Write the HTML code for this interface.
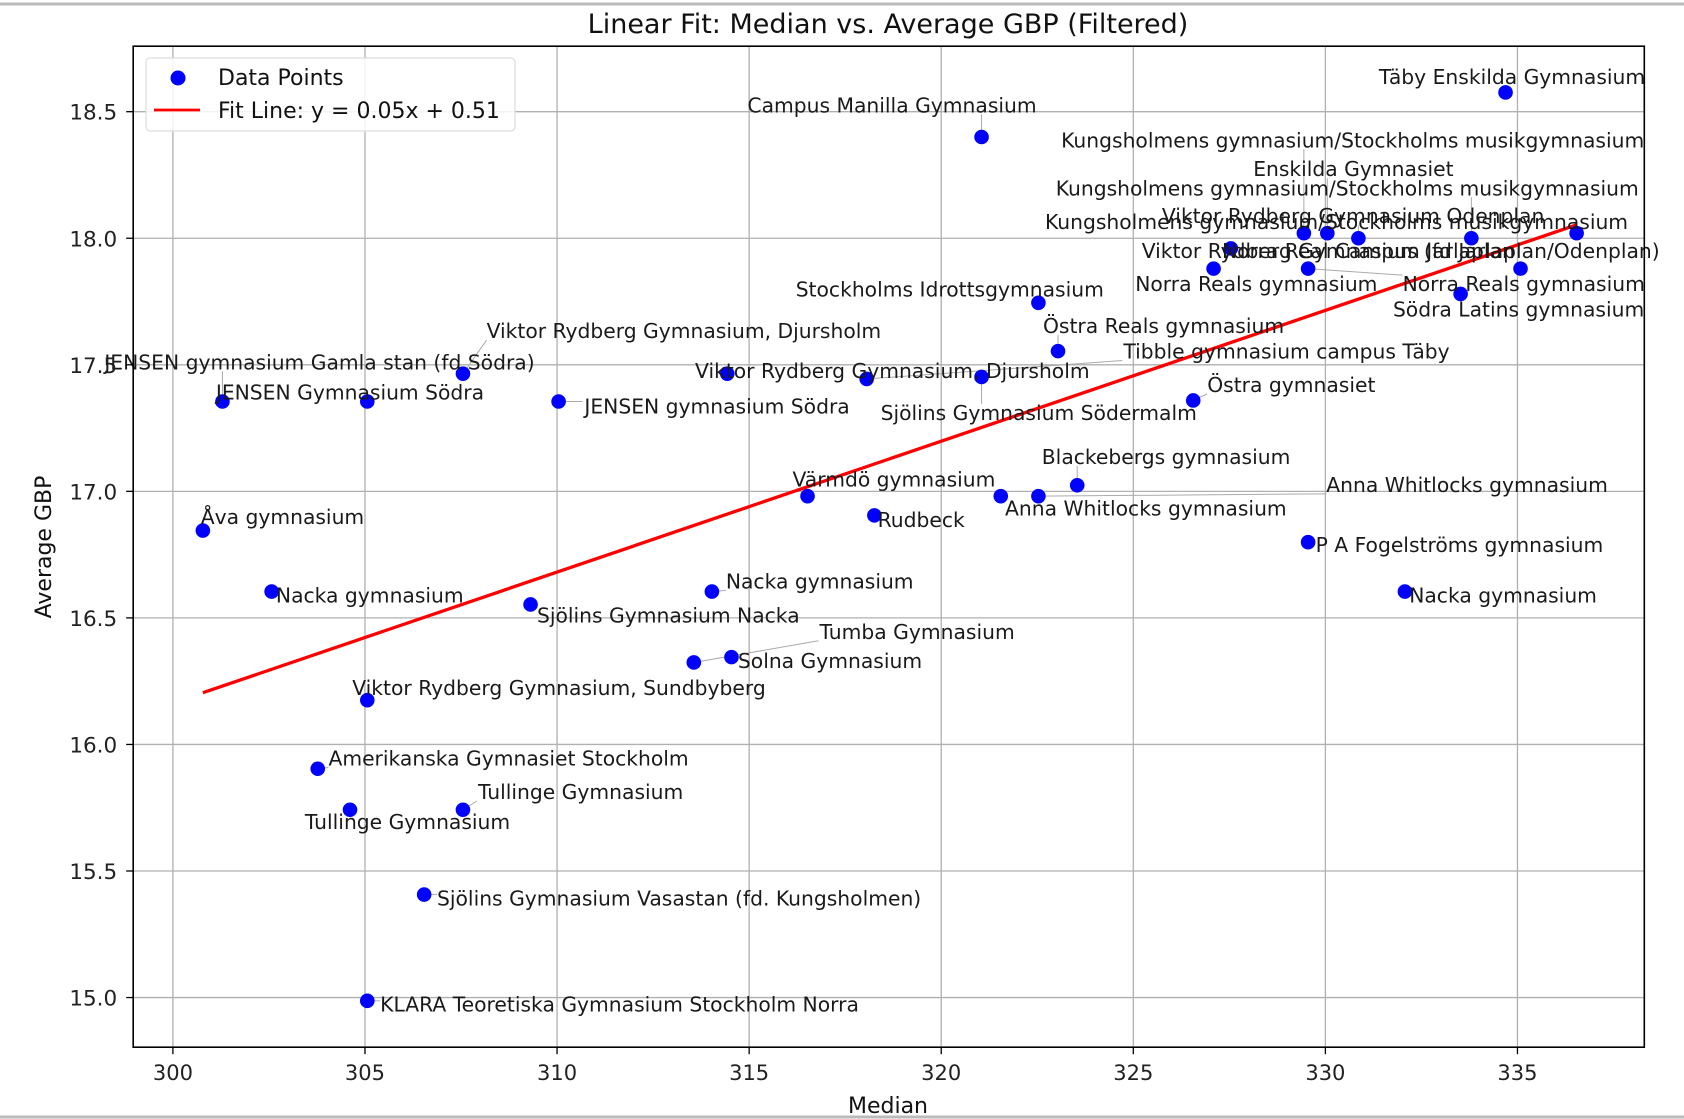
<!DOCTYPE html>
<html><head><meta charset="utf-8">
<style>
html,body{margin:0;padding:0;background:#fff;}
svg{display:block;font-family:"DejaVu Sans","Liberation Sans",sans-serif;}
</style></head>
<body>
<svg id="chart" width="1684" height="1119" viewBox="0 0 1684 1119">
<line x1="0" y1="4" x2="1684" y2="4" stroke="#bbb" stroke-width="3"/>
<line x1="0" y1="1117" x2="1684" y2="1117" stroke="#bbb" stroke-width="3"/>
<g id="grid"></g>
<g id="fit"></g>
<g id="leaders"></g>
<g id="pts"></g>
<g id="labels"></g>
<rect x="133.2" y="46.2" width="1511.1" height="1001" fill="none" stroke="#000" stroke-width="1.6"/>
<g id="axes"></g>
<text x="888" y="33" font-size="27" text-anchor="middle" fill="#111">Linear Fit: Median vs. Average GBP (Filtered)</text>
<text x="888" y="1113" font-size="22" text-anchor="middle" fill="#111">Median</text>
<text x="0" y="0" font-size="22" text-anchor="middle" fill="#111" transform="translate(51,547) rotate(-90)">Average GBP</text>
<g>
<rect x="146" y="58" width="369" height="73" rx="4" fill="#fff" fill-opacity="0.85" stroke="#ddd" stroke-width="1.2"/>
<circle cx="178" cy="78" r="7.5" fill="#0000ff"/>
<text x="218" y="85" font-size="22" fill="#111">Data Points</text>
<line x1="154" y1="110" x2="200" y2="110" stroke="#ff0000" stroke-width="2.8"/>
<text x="218" y="118" font-size="22" fill="#111">Fit Line: y = 0.05x + 0.51</text>
</g>
</svg>
<script>
const xTicks = [300,305,310,315,320,325,330,335];
const yTicks = [15.0,15.5,16.0,16.5,17.0,17.5,18.0,18.5];
const medianVals = [334.69,321.05,329.44,330.05,330.86,333.80,336.54,327.54,327.09,329.55,335.08,333.52,322.53,323.04,321.05,318.06,314.43,326.56,307.55,301.29,305.06,310.04,323.54,321.55,322.53,316.52,318.26,329.55,332.07,300.78,302.57,314.03,309.31,313.56,314.54,305.06,303.77,304.61,307.55,306.54,305.06];
const gbpVals = [18.576,18.40,18.02,18.02,18.00,18.00,18.02,17.96,17.88,17.88,17.88,17.78,17.745,17.554,17.452,17.444,17.465,17.359,17.465,17.355,17.355,17.355,17.024,16.981,16.981,16.981,16.905,16.799,16.604,16.845,16.604,16.604,16.553,16.324,16.345,16.175,15.904,15.742,15.742,15.407,14.987];
const schoolNames = ["Täby Enskilda Gymnasium","Campus Manilla Gymnasium","Kungsholmens gymnasium/Stockholms musikgymnasium","Enskilda Gymnasiet","Viktor Rydberg Gymnasium Odenplan","Kungsholmens gymnasium/Stockholms musikgymnasium","Kungsholmens gymnasium/Stockholms musikgymnasium","Viktor Rydberg Gymnasium Jarlaplan","Norra Reals gymnasium","Norra Reals gymnasium","Norra Real Campus (fd Jarlaplan/Odenplan)","Södra Latins gymnasium","Stockholms Idrottsgymnasium","Östra Reals gymnasium","Sjölins Gymnasium Södermalm","Tibble gymnasium campus Täby","Viktor Rydberg Gymnasium, Djursholm","Östra gymnasiet","Viktor Rydberg Gymnasium, Djursholm","JENSEN gymnasium Gamla stan (fd Södra)","JENSEN Gymnasium Södra","JENSEN gymnasium Södra","Blackebergs gymnasium","Anna Whitlocks gymnasium","Anna Whitlocks gymnasium","Värmdö gymnasium","Rudbeck","P A Fogelströms gymnasium","Nacka gymnasium","Åva gymnasium","Nacka gymnasium","Nacka gymnasium","Sjölins Gymnasium Nacka","Tumba Gymnasium","Solna Gymnasium","Viktor Rydberg Gymnasium, Sundbyberg","Amerikanska Gymnasiet Stockholm","Tullinge Gymnasium","Tullinge Gymnasium","Sjölins Gymnasium Vasastan (fd. Kungsholmen)","KLARA Teoretiska Gymnasium Stockholm Norra"];
// label offsets (left x, center y) relative to point (layout units)
const labelDX = [-118,-218,-226,-69,-183,-387,-495,-83,-73,88,-278,-63,-226,-14,-94,239,-30,13,22,-110,-141,24,-33,4,268,-14,3,7,4,-2,4,13,6,117,6,-14,10,-42,14,12,12];
const labelDY = [-15,-30,-87,-60,-21,-47,-11,2,14,14,-17,14,-13,-24,33,-26,-3,-15,-40,-37,-9,4,-27,11,-11,-16,4,2,3,-13,3,-10,10,-29,3,-12,-10,11,-17,3,3];
const slope = 0.0517, intercept = 0.654;

const NS="http://www.w3.org/2000/svg";
const S=1.074;
const L=133.2,R=1644.3,T=46.2,B=1047.2;
const sx=v=>172.9+(v-300)*38.416;
const sy=v=>111.7+(18.5-v)*253.1;
function mk(tag,attrs,parent){const e=document.createElementNS(NS,tag);for(const k in attrs)e.setAttribute(k,attrs[k]);parent.appendChild(e);return e;}
const grid=document.getElementById('grid'),axes=document.getElementById('axes');
xTicks.forEach(t=>{
  const gl=mk('line',{x1:sx(t),x2:sx(t),y1:T,y2:B,stroke:'#b0b0b0','stroke-width':1.3},grid);
  
  
  const tk=mk('line',{x1:sx(t),x2:sx(t),y1:B,y2:B+7,stroke:'#000','stroke-width':1.3},axes);
  
  
  const tl=mk('text',{x:sx(t),y:B+33,'font-size':21,'text-anchor':'middle',fill:'#222'},axes);
  tl.textContent=t;
  
  
});
yTicks.forEach(t=>{
  const gl=mk('line',{x1:L,x2:R,y1:sy(t),y2:sy(t),stroke:'#b0b0b0','stroke-width':1.3},grid);
  
  
  const tk=mk('line',{x1:L-7,x2:L,y1:sy(t),y2:sy(t),stroke:'#000','stroke-width':1.3},axes);
  
  
  const tl=mk('text',{x:L-16,y:sy(t)+8,'font-size':21.5,'text-anchor':'end',fill:'#222'},axes);
  tl.textContent=t.toFixed(1);
  
  
});
const xmin=Math.min(...medianVals),xmax=Math.max(...medianVals);
const fl=mk('line',{x1:sx(xmin),y1:sy(slope*xmin+intercept),x2:sx(xmax),y2:sy(slope*xmax+intercept),stroke:'#ff0000','stroke-width':3.3},document.getElementById('fit'));


const pts=document.getElementById('pts'),labs=document.getElementById('labels'),lead=document.getElementById('leaders');
medianVals.forEach((m,i)=>{
  const px=sx(m),py=sy(gbpVals[i]);
  const c=mk('circle',{cx:px,cy:py,r:7.3,fill:'#0000ff'},pts);
  
  
  const t=mk('text',{x:px+labelDX[i]*S,y:py+labelDY[i]*S+7.5,'font-size':20.3,fill:'#1a1a1a'},labs);
  t.textContent=schoolNames[i];
  
  
  const bb=t.getBBox();
  const nx=Math.max(bb.x,Math.min(px,bb.x+bb.width)),ny=Math.max(bb.y+3,Math.min(py,bb.y+bb.height-3));
  if(Math.hypot(nx-px,ny-py)>10){
    const ln=mk('line',{x1:px,y1:py,x2:nx,y2:ny,stroke:'#aaa','stroke-width':1},lead);
    
    
  }
});
</script>
</body></html>
